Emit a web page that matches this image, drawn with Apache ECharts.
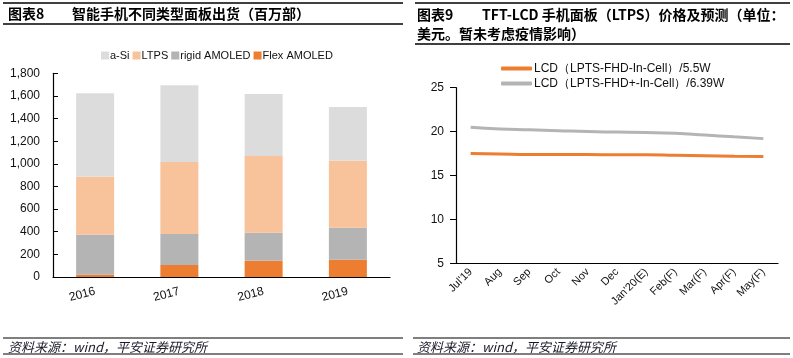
<!DOCTYPE html>
<html><head><meta charset="utf-8">
<script src="https://cdn.jsdelivr.net/npm/echarts@6/dist/echarts.min.js"></script>
<style>html,body{margin:0;padding:0;background:#fff}#c{width:793px;height:358px}</style>
</head><body><div id="c"></div>
<script>
const years = ['2016','2017','2018','2019'];
const flexAmoled = [20, 106, 144, 153];
const rigidAmoled = [354, 274, 247, 283];
const ltps = [512, 636, 678, 592];
const aSi = [737, 678, 548, 474];
const barTicks = [0, 1800, 200];

const months = ["Jul'19","Aug","Sep","Oct","Nov","Dec","Jan'20(E)","Feb(F)","Mar(F)","Apr(F)","May(F)"];
const lcdFHD = [17.5,17.45,17.4,17.4,17.4,17.35,17.35,17.3,17.25,17.2,17.15];
const lcdFHDPlus = [20.5,20.3,20.2,20.1,20.0,19.95,19.9,19.8,19.6,19.4,19.2];
const lineTicks = [5, 25, 5];

const latin = 'Liberation Sans, Arial, sans-serif';
const cjk = '"Noto Sans CJK SC", sans-serif';
const txt = '#111';

const chart = echarts.init(document.getElementById('c'));
function hline(x1,x2,y,w){return {type:'line',shape:{x1:x1,y1:y,x2:x2,y2:y},style:{stroke:'#000',lineWidth:w}};}
function text(x,y,s,opt){return {type:'text',x:x,y:y,style:Object.assign({text:s,fill:'#000',font:'bold 14px '+cjk,textVerticalAlign:'middle'},opt||{})};}
const foot = '资料来源：wind，平安证券研究所';

chart.setOption({
  animation:false,
  textStyle:{fontFamily:latin},
  graphic:[
    hline(3,403,3,1.5), hline(3,403,24,1.5),
    hline(415,790,3,1.5), hline(415,790,44,1.5),
    hline(3,403,338,1.2), hline(3,403,354,1.2),
    hline(413,790,338,1.2), hline(413,790,354,1.2),
    text(8,14,'图表8'), text(72,14,'智能手机不同类型面板出货（百万部）'),
    text(417,15,'图表9'), text(482,15,'TFT-LCD 手机面板（LTPS）价格及预测（单位：'),
    text(417,34,'美元。暂未考虑疫情影响）'),
    text(8,347,foot,{font:'italic 13px '+cjk,fill:'#1a1a2a'}),
    text(417,347,foot,{font:'italic 13px '+cjk,fill:'#1a1a2a'})
  ],
  legend:[{
    data:['a-Si','LTPS','rigid AMOLED','Flex AMOLED'],
    left:96, top:45, itemWidth:8, itemHeight:8, itemGap:3, icon:'rect',
    textStyle:{fontSize:11,color:txt,fontFamily:latin,padding:[0,0,0,-4]}
  },{
    data:['LCD（LPTS-FHD-In-Cell）/5.5W','LCD（LPTS-FHD+-In-Cell）/6.39W'],
    orient:'vertical', left:496, top:57, itemWidth:31, itemHeight:4, itemGap:2,
    icon:'roundRect',
    textStyle:{fontSize:12,color:txt,fontFamily:latin,lineHeight:13,padding:[0,0,0,-3]}
  }],
  grid:[
    {left:53, right:403, top:73.3, bottom:81},
    {left:456, right:15, top:87.7, bottom:94.7}
  ],
  xAxis:[{
    gridIndex:0, type:'category', data:years,
    axisLine:{lineStyle:{color:'#000',width:1.2}},
    axisTick:{inside:true,length:5,lineStyle:{color:'#000'}},
    axisLabel:{rotate:15,fontSize:12,color:txt,margin:14}
  },{
    gridIndex:1, type:'category', data:months, boundaryGap:true,
    axisLine:{lineStyle:{color:'#000',width:1.2}},
    axisTick:{inside:true,length:5,lineStyle:{color:'#000'}},
    axisLabel:{rotate:45,fontSize:11,color:txt,margin:7,interval:0}
  }],
  yAxis:[{
    gridIndex:0, type:'value', min:barTicks[0], max:barTicks[1], interval:barTicks[2],
    axisLine:{show:true,lineStyle:{color:'#000',width:1.2}},
    axisTick:{show:true,inside:true,length:5,lineStyle:{color:'#000'}},
    splitLine:{show:false},
    axisLabel:{fontSize:12,color:txt,margin:13,formatter:v=>v.toLocaleString('en-US')}
  },{
    gridIndex:1, type:'value', min:lineTicks[0], max:lineTicks[1], interval:lineTicks[2],
    axisLine:{show:true,lineStyle:{color:'#000',width:1.2}},
    axisTick:{show:true,length:6,lineStyle:{color:'#000'}},
    splitLine:{show:false},
    axisLabel:{fontSize:12,color:txt,margin:12}
  }],
  series:[
    {name:'Flex AMOLED',type:'bar',stack:'a',data:flexAmoled,barWidth:38,itemStyle:{color:'#ED7D31'},xAxisIndex:0,yAxisIndex:0},
    {name:'rigid AMOLED',type:'bar',stack:'a',data:rigidAmoled,barWidth:38,itemStyle:{color:'#B4B4B4'},xAxisIndex:0,yAxisIndex:0},
    {name:'LTPS',type:'bar',stack:'a',data:ltps,barWidth:38,itemStyle:{color:'#F8C29A'},xAxisIndex:0,yAxisIndex:0},
    {name:'a-Si',type:'bar',stack:'a',data:aSi,barWidth:38,itemStyle:{color:'#DCDCDC'},xAxisIndex:0,yAxisIndex:0},
    {name:'LCD（LPTS-FHD-In-Cell）/5.5W',type:'line',data:lcdFHD,smooth:true,showSymbol:false,symbol:'none',
      lineStyle:{color:'#ED7D31',width:3},itemStyle:{color:'#ED7D31'},xAxisIndex:1,yAxisIndex:1},
    {name:'LCD（LPTS-FHD+-In-Cell）/6.39W',type:'line',data:lcdFHDPlus,smooth:true,showSymbol:false,symbol:'none',
      lineStyle:{color:'#B4B4B4',width:3},itemStyle:{color:'#B4B4B4'},xAxisIndex:1,yAxisIndex:1}
  ]
});
</script></body></html>
